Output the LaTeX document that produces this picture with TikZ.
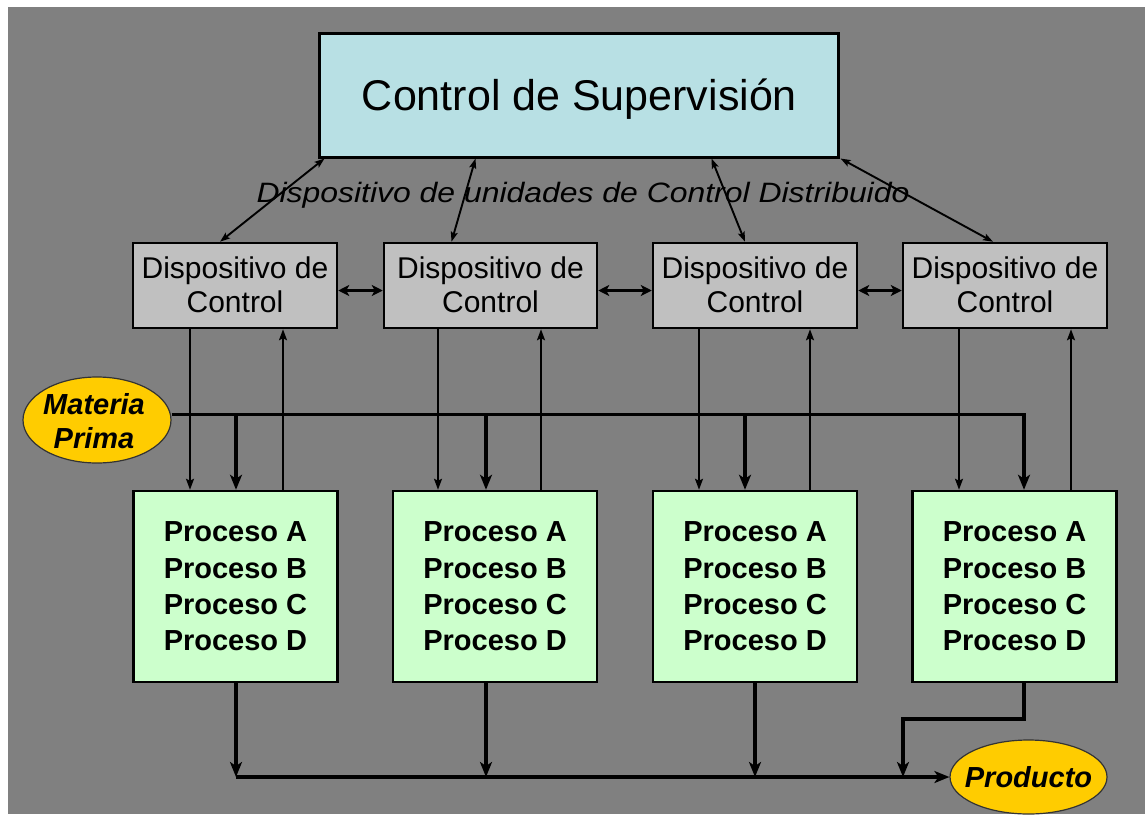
\documentclass[tikz,border=0pt]{standalone}
\usepackage{fontspec}
\setmainfont{Liberation Sans}
\usepackage{graphicx}
\usetikzlibrary{arrows.meta,shapes.geometric}
\definecolor{fondo}{HTML}{808080}
\definecolor{supcol}{HTML}{B8E0E4}
\definecolor{ctlcol}{HTML}{C0C0C0}
\definecolor{proccol}{HTML}{CCFFCC}
\definecolor{oro}{HTML}{FFCC00}

\begin{document}
\begin{tikzpicture}[x=1pt,y=-1pt,
  ctlbox/.style={draw=black,line width=2.5pt,fill=ctlcol,minimum height=85pt,inner sep=0pt,align=center,font=\fontsize{30}{34}\selectfont},
  procbox/.style={draw=black,line width=2.5pt,fill=proccol,minimum width=204pt,minimum height=191pt,inner sep=0pt,align=center,font=\bfseries\fontsize{29}{36.3}\selectfont},
  elipse/.style={ellipse,draw=black!80,line width=1.2pt,fill=oro,inner sep=0pt},
  etiq/.style={align=center,inner sep=0pt,font=\bfseries\itshape\fontsize{29}{34}\selectfont},
  sig/.style={line width=1.9pt,-{Stealth[length=11pt,width=8pt,inset=2pt]}},
  sigdoble/.style={line width=1.9pt,{Stealth[length=10pt,width=7pt,inset=2pt]}-{Stealth[length=10pt,width=7pt,inset=2pt]}},
  enlace/.style={line width=3.5pt,{Stealth[length=11pt,width=11pt,inset=3pt]}-{Stealth[length=11pt,width=11pt,inset=3pt]}},
  flujo/.style={line width=3.5pt,-{Stealth[length=15pt,width=12pt,inset=4pt]}},
  bus/.style={line width=3.5pt}]

 \useasboundingbox (0,0) rectangle (1145,814);
 \fill[white] (0,0) rectangle (1145,814);
 \fill[fondo] (8,7) rectangle (1145,814);

 \node[draw=black,line width=3pt,fill=supcol,minimum width=519pt,minimum height=124pt,inner sep=0pt] (sup) at (578.5,95) {};
 \node[font=\fontsize{43}{48}\selectfont,inner sep=0pt] (suptxt) at (579.5,99) {Control de Supervisión};

 \node[font=\itshape\fontsize{28}{32}\selectfont,inner sep=0pt] (lbl) at (583,195) {\scalebox{1.14}[1]{Dispositivo de unidades de Control Distribuido}};

 \foreach \i/\cx/\w in {1/235/204, 2/490.5/213, 3/755/204, 4/1005/204}
   \node[ctlbox,minimum width=\w pt,text depth=2pt] (ctl\i) at (\cx,285.5) {Dispositivo de\\Control};

 \foreach \i/\cx in {1/235.5, 2/495, 3/755, 4/1014.5}
   \node[procbox] (proc\i) at (\cx,586.5) {Proceso A\\Proceso B\\Proceso C\\Proceso D};

 \node[elipse,minimum width=148pt,minimum height=86pt] (mat) at (97,420) {};
 \node[etiq] (mattxt) at (94,421) {Materia\\Prima};
 \node[elipse,minimum width=157pt,minimum height=74pt] (prod) at (1028.5,777) {};
 \node[etiq] (prodtxt) at (1028.5,777) {Producto};

 \draw[sigdoble] ([xshift=7pt]sup.south west) -- ([xshift=-15pt]ctl1.north);
 \draw[sigdoble] ([xshift=158pt]sup.south west) -- ([xshift=-39pt]ctl2.north);
 \draw[sigdoble] ([xshift=-128pt]sup.south east) -- ([xshift=-10pt]ctl3.north);
 \draw[sigdoble] ([xshift=1pt]sup.south east) -- ([xshift=-12pt]ctl4.north);

 \draw[enlace] ([yshift=-5pt]ctl1.east) -- ([yshift=-5pt]ctl2.west);
 \draw[enlace] ([yshift=-5pt]ctl2.east) -- ([yshift=-5pt]ctl3.west);
 \draw[enlace] ([yshift=-5pt]ctl3.east) -- ([yshift=-5pt]ctl4.west);

 \foreach \i/\dn/\up in {1/190/283, 2/438/541, 3/699/810, 4/959/1071}{
   \draw[sig] (\dn,0 |- ctl\i.south) -- (\dn,0 |- proc\i.north);
   \draw[sig] (\up,0 |- proc\i.north) -- (\up,0 |- ctl\i.south);
 }

 \coordinate (busE) at (1024,415);
 \draw[flujo] ([yshift=5.5pt]mat.east) -| (busE |- proc4.north);
 \foreach \i/\feed in {1/236, 2/486, 3/745}
   \draw[flujo] (\feed,0 |- busE) -- (\feed,0 |- proc\i.north);

 \foreach \i/\out in {1/236, 2/486, 3/755}
   \draw[flujo] (\out,0 |- proc\i.south) -- (\out,0 |- prod.west);
 \draw[flujo] (1024,0 |- proc4.south) -- (1024,719) -| (903,0 |- prod.west);
 \draw[flujo] (236,0 |- prod.west) -- (prod.west);

\end{tikzpicture}
\end{document}
